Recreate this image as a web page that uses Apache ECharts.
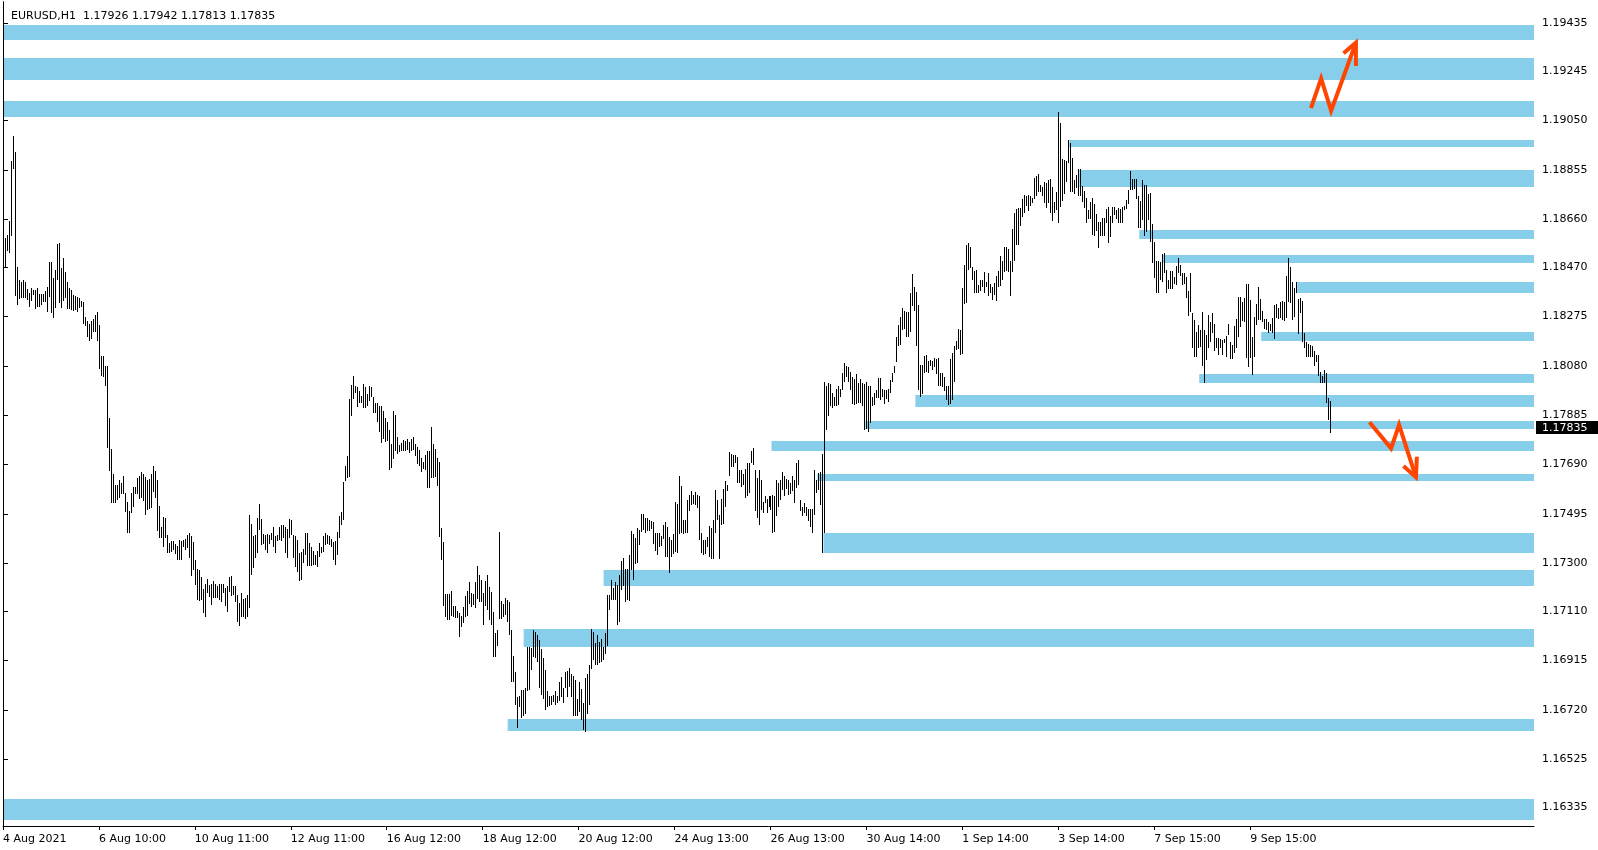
<!DOCTYPE html>
<html><head><meta charset="utf-8">
<script src="https://cdn.jsdelivr.net/npm/echarts@6/dist/echarts.min.js"></script>
<style>html,body{margin:0;padding:0;background:#fff;}#c{width:1598px;height:850px;}</style>
</head><body><div id="c"></div>
<script>
// ---- data (prices in points, 1 point = 0.00001) ----
const symbol = 'EURUSD,H1';
const lastOHLC = [1.17926, 1.17942, 1.17813, 1.17835];
const lastPrice = 117835;
const xLabels = ['4 Aug 2021','6 Aug 10:00','10 Aug 11:00','12 Aug 11:00','16 Aug 12:00','18 Aug 12:00','20 Aug 12:00','24 Aug 13:00','26 Aug 13:00','30 Aug 14:00','1 Sep 14:00','3 Sep 14:00','7 Sep 15:00','9 Sep 15:00'];
const barsPerLabel = 48;
const yTicks = [119435,119245,119050,118855,118660,118470,118275,118080,117885,117690,117495,117300,117110,116915,116720,116525,116335];
const highs = [
118770,118585,118598,118654,118892,118990,118927,118473,118420,118412,
118420,118410,118386,118370,118389,118381,118382,118389,118366,118366,
118365,118377,118394,118491,118491,118427,118460,118563,118567,118469,
118507,118452,118411,118387,118380,118362,118358,118354,118350,118337,
118331,118275,118258,118246,118258,118265,118282,118294,118242,118120,
118120,118078,118080,117876,117751,117653,117610,117610,117630,117616,
117645,117579,117541,117508,117579,117603,117603,117635,117643,117659,
117653,117640,117630,117632,117652,117685,117666,117630,117527,117445,
117482,117479,117413,117379,117388,117386,117375,117370,117390,117389,
117390,117396,117411,117419,117406,117382,117313,117279,117274,117247,
117197,117218,117237,117213,117217,117230,117216,117210,117217,117218,
117216,117202,117208,117245,117250,117208,117208,117173,117142,117181,
117160,117164,117173,117491,117456,117406,117411,117479,117535,117474,
117416,117413,117416,117413,117421,117442,117408,117413,117445,117453,
117452,117445,117435,117475,117469,117413,117406,117392,117340,117345,
117355,117419,117419,117379,117363,117349,117333,117349,117379,117366,
117406,117419,117412,117408,117395,117382,117387,117424,117487,
117504,117622,117685,117724,117949,118005,118041,118001,117995,117981,
117962,118009,117996,117970,118001,117996,117959,117935,117933,117922,
117922,117900,117875,117860,117825,117773,117900,117888,117798,117768,
117777,117788,117785,117792,117781,117790,117798,117772,117759,117748,
117715,117701,117728,117742,117742,117839,117772,117751,117715,117702,
117438,117382,117177,117179,117179,117192,117131,117129,117113,117102,
117092,117126,117171,117192,117224,117181,117179,117226,117290,117254,
117234,117181,117229,117254,117205,117185,117109,117023,117034,117424,
117152,117139,117164,117155,117145,117034,116934,116868,116773,116776,
116799,116799,116806,116968,116968,116963,117034,117030,117017,116997,
116960,116927,116878,116795,116776,116776,116779,116793,116776,116832,
116852,116806,116868,116872,116885,116862,116856,116839,116765,116832,
116802,116746,116845,116862,116898,117039,117030,116986,117015,116990,
117000,116968,117023,117175,117175,117234,117201,117224,117214,117254,
117307,117320,117276,117276,117333,117427,117416,117400,117440,117432,
117495,117495,117478,117479,117471,117467,117463,117420,117421,117420,
117408,117453,117463,117445,117405,
117390,117416,117544,117535,117645,117606,117469,117471,117551,117570,
117587,117570,117582,117570,117566,117419,117390,117392,117403,117448,
117439,117471,117590,117551,117491,117553,117593,117627,117609,117740,
117732,117728,117728,117719,117669,117669,117653,117672,117696,117696,
117742,117754,117667,117636,117669,117630,117544,117566,117553,117566,
117566,117570,117566,117630,117616,117630,117659,117643,117632,117630,
117616,117643,117630,117696,117709,117551,117522,117537,117524,117514,
117514,117516,117669,117630,117656,117659,117732,118017,118001,118012,
118009,117975,117959,117988,118001,117988,118051,118091,118078,118075,
118057,118038,118028,118049,118014,118028,118012,118009,118017,117999,
118001,117959,117975,117983,118032,118033,117988,117983,117983,117988,
118025,118054,118080,118194,118241,118275,118308,118299,118294,118294,
118368,118444,118394,118373,118322,118083,118084,118120,118124,118098,
118104,118101,118111,118109,118111,118054,118054,118036,117999,117999,
118107,118130,118159,118177,118225,118223,118387,118480,118559,118565,
118552,118471,118457,118460,118401,118420,118420,118453,118413,118449,
118405,118394,118407,118436,118457,
118513,118495,118549,118552,118541,118494,118621,118684,118702,118704,
118706,118739,118754,118752,118756,118750,118744,118822,118831,118839,
118796,118787,118808,118802,118816,118818,118787,118730,118769,119085,
119042,118897,118895,118892,118974,118961,118903,118816,118835,118859,
118858,118792,118771,118744,118697,118730,118743,118721,118681,118651,
118651,118664,118664,118700,118708,118671,118710,118708,118697,118704,
118702,118710,118713,118737,118776,118849,118818,118818,118818,118752,
118734,118816,118796,118796,118760,118763,118642,118572,118493,118494,
118492,118523,118526,118460,118420,118455,118455,118431,118476,118506,
118480,118449,118447,118431,118378,118447,118291,118262,118216,118242,
118223,118294,118223,118204,118282,118252,118291,118246,118190,118190,
118186,118183,118186,118199,118246,118176,118163,118236,118265,118354,
118352,118331,118348,118405,118405,118341,118196,118273,118325,118391,
118344,118299,118265,118265,118252,118246,118269,118321,118325,118308,
118331,118335,118331,118436,118506,118473,118410,118387,118412,118344,
118348,118335,118209,118173,118167,118163,118159,118141,118124,118124,
118058,118041,118064,118051,117952,117942
];
const lows = [
118414,118473,118536,118528,118592,118858,118358,118319,118344,118347,
118348,118350,118340,118315,118335,118362,118307,118312,118315,118321,
118331,118333,118295,118354,118289,118271,118311,118418,118328,118311,
118335,118348,118304,118304,118302,118299,118302,118293,118308,118315,
118244,118236,118194,118177,118187,118215,118215,118180,118067,118042,
118035,117999,117757,117666,117540,117537,117537,117550,117557,117574,
117574,117503,117419,117419,117500,117524,117574,117574,117553,117556,
117545,117492,117511,117514,117519,117582,117557,117429,117399,117399,
117366,117398,117340,117340,117346,117353,117336,117313,117313,117313,
117363,117353,117359,117320,117250,117274,117214,117155,117151,117155,
117102,117089,117181,117166,117135,117162,117162,117163,117155,117148,
117181,117129,117109,117188,117172,117175,117148,117066,117050,117087,
117089,117080,117089,117122,117253,117283,117322,117340,117432,117371,
117376,117353,117342,117376,117390,117366,117340,117387,117390,117386,
117400,117342,117320,117399,117410,117320,117284,117265,117228,117234,
117299,117333,117290,117290,117290,117291,117291,117284,117326,117340,
117346,117373,117376,117373,117366,117313,117294,117333,117399,
117453,117469,117627,117635,117640,117884,117949,117972,117916,117933,
117933,117912,117912,117920,117943,117956,117893,117893,117860,117817,
117777,117793,117780,117784,117669,117676,117714,117743,117732,117739,
117742,117745,117742,117748,117735,117742,117748,117722,117691,117685,
117662,117674,117669,117597,117598,117635,117635,117640,117606,117405,
117311,117131,117089,117076,117076,117092,117086,117082,117082,117010,
117047,117063,117089,117092,117137,117126,117135,117121,117158,117148,
117148,117054,117131,117116,117076,117056,116931,116931,116971,117079,
117079,117089,117096,117069,117017,116832,116832,116740,116649,116733,
116687,116694,116704,116793,116799,116878,116931,116927,116911,116806,
116779,116762,116718,116731,116736,116740,116753,116740,116746,116757,
116773,116749,116806,116773,116810,116770,116694,116696,116696,116712,
116681,116641,116631,116704,116740,116881,116918,116898,116898,116905,
116911,116918,116942,116971,117116,117155,117155,117155,117056,117069,
117195,117208,117145,117155,117152,117274,117232,117297,117300,117373,
117425,117432,117419,117429,117429,117434,117376,117350,117334,117366,
117369,117395,117324,117326,117263,
117324,117337,117346,117342,117416,117419,117416,117419,117419,117508,
117531,117535,117531,117518,117392,117342,117333,117337,117366,117324,
117316,117316,117419,117471,117316,117452,117456,117524,117587,117643,
117682,117682,117696,117619,117619,117603,117610,117557,117564,117577,
117696,117689,117508,117478,117452,117511,117498,117537,117500,117524,
117511,117419,117425,117485,117524,117548,117590,117564,117593,117570,
117573,117587,117537,117597,117610,117507,117487,117498,117485,117465,
117445,117419,117491,117577,117590,117531,117340,117419,117827,117883,
117920,117912,117922,117920,117925,117959,117983,118018,118038,118018,
117983,117930,117926,117930,117935,117933,117920,117827,117830,117817,
117856,117922,117925,117953,117953,117946,117959,117930,117949,117939,
117972,118017,118054,118094,118157,118163,118223,118225,118194,118194,
118216,118318,118299,118157,117985,117959,117970,118051,118058,118054,
118080,118062,118075,118049,118001,118001,117996,117979,117946,117926,
117930,117946,118018,118144,118146,118123,118128,118326,118328,118460,
118467,118420,118368,118370,118368,118378,118394,118368,118394,118355,
118370,118341,118361,118335,118391,
118397,118420,118451,118455,118451,118357,118453,118493,118560,118560,
118634,118668,118684,118713,118694,118713,118723,118739,118752,118769,
118766,118750,118726,118706,118725,118684,118655,118684,118697,118647,
118710,118734,118760,118809,118882,118766,118766,118760,118783,118752,
118750,118730,118704,118644,118660,118660,118598,118592,118615,118548,
118592,118594,118592,118644,118568,118589,118644,118677,118660,118647,
118647,118647,118697,118700,118721,118776,118776,118779,118739,118625,
118625,118658,118592,118611,118658,118572,118486,118428,118368,118370,
118420,118410,118447,118370,118383,118383,118386,118405,118401,118449,
118434,118401,118405,118348,118278,118294,118150,118117,118115,118150,
118154,118078,118014,118104,118150,118173,118209,118141,118150,118124,
118150,118124,118170,118117,118203,118107,118107,118130,118150,118196,
118233,118256,118252,118111,118075,118111,118046,118117,118242,118262,
118262,118252,118225,118223,118209,118217,118212,118186,118269,118265,
118269,118262,118256,118269,118331,118328,118262,118275,118368,118207,
118289,118176,118150,118117,118117,118115,118117,118080,118097,118041,
118014,118014,118014,117933,117867,117813
];
// zones: [first bar index, top price, bottom price]
const zones = [
[0,119428,119370],[0,119298,119212],[0,119128,119066],
[533,118974,118947],[538,118855,118789],[568,118618,118583],[580,118518,118486],
[647,118412,118370],[629,118214,118180],[598,118048,118014],[456,117964,117919],
[431,117862,117829],[384,117783,117745],[407,117653,117625],[410,117420,117342],
[300,117273,117211],[260,117040,116970],[252,116685,116635],[0,116369,116284]
];
// hand-drawn arrows: [bar index, price]
const arrowUp = [[654.4,119099],[659.5,119217],[664.5,119089],[676.9,119358]];
const arrowUpHead = [[670.7,119316],[676.9,119358],[676.9,119266]];
const arrowDown = [[683.7,117857],[694.5,117754],[698.5,117847],[706.9,117640]];
const arrowDownHead = [[700.7,117684],[706.9,117640],[707.4,117721]];
const axisMaxIndex = 766;
const yMin = 116261, yMax = 119519;

// ---- chart ----
const FONT = 'DejaVu Sans';
const bars = highs.map((h, i) => [i, h, lows[i]]);
const xTickVals = xLabels.map((_, k) => k * barsPerLabel);

const chart = echarts.init(document.getElementById('c'), null, {renderer: 'canvas'});
chart.setOption({
  animation: false,
  backgroundColor: '#ffffff',
  title: {
    text: symbol + '  ' + lastOHLC.map(v => v.toFixed(5)).join(' '),
    left: 6, top: 6,
    textStyle: {fontFamily: FONT, fontSize: 11, fontWeight: 'normal', color: '#000'}
  },
  grid: {left: 2, right: 64, top: 2, bottom: 24, containLabel: false},
  xAxis: {
    type: 'value', min: 0, max: axisMaxIndex,
    axisLine: {show: true, onZero: false, lineStyle: {color: '#000', width: 1}},
    axisTick: {show: true, customValues: xTickVals, length: 4, lineStyle: {color: '#000'}},
    axisLabel: {
      show: true, customValues: xTickVals, margin: 8, align: 'left',
      fontFamily: FONT, fontSize: 11, color: '#000',
      formatter: v => xLabels[Math.round(v / barsPerLabel)] || ''
    },
    splitLine: {show: false}
  },
  yAxis: [{
    type: 'value', position: 'right', min: yMin, max: yMax, scale: true,
    axisLine: {show: true, lineStyle: {color: '#000', width: 1}},
    axisTick: {show: true, customValues: yTicks, length: 5, lineStyle: {color: '#000'}},
    axisLabel: {
      show: true, customValues: yTicks, margin: 8,
      fontFamily: FONT, fontSize: 11, color: '#000',
      formatter: v => (v / 1e5).toFixed(5)
    },
    splitLine: {show: false}
  }, {
    type: 'value', position: 'left', min: yMin, max: yMax, scale: true,
    axisLine: {show: true, lineStyle: {color: '#000', width: 1}},
    axisTick: {show: false}, axisLabel: {show: false}, splitLine: {show: false}
  }],
  series: [
    {
      type: 'custom', name: 'zones', data: zones, encode: {x: 0, y: [1, 2]},
      renderItem: (params, api) => {
        const a = api.coord([api.value(0), api.value(1)]);
        const b = api.coord([axisMaxIndex, api.value(2)]);
        return {type: 'rect', shape: {x: a[0] + 1, y: Math.round(a[1]), width: b[0] - a[0] - 1, height: Math.round(b[1]) - Math.round(a[1])},
          style: {fill: '#87CEEB'}};
      },
      z: 1
    },
    {
      type: 'custom', name: 'bars', data: bars, encode: {x: 0, y: [1, 2]},
      renderItem: (params, api) => {
        const i = api.value(0);
        const a = api.coord([i, api.value(1)]);
        const b = api.coord([i, api.value(2)]);
        const y1 = Math.round(a[1]), y2 = Math.round(b[1]);
        return {type: 'rect', shape: {x: Math.round(a[0]), y: y1, width: 1, height: Math.max(1, y2 - y1)},
          style: {fill: '#000'}};
      },
      z: 3
    },
    {
      type: 'custom', name: 'arrows', data: [[0, lastPrice]], encode: {x: 0, y: 1},
      renderItem: (params, api) => {
        const pts = arr => arr.map(p => api.coord(p));
        const st = {stroke: '#FF4500', lineWidth: 4, fill: null, lineJoin: 'miter', lineCap: 'butt'};
        return {type: 'group', children: [
          {type: 'polyline', shape: {points: pts(arrowUp)}, style: st},
          {type: 'polyline', shape: {points: pts(arrowUpHead)}, style: st},
          {type: 'polyline', shape: {points: pts(arrowDown)}, style: st},
          {type: 'polyline', shape: {points: pts(arrowDownHead)}, style: st}
        ]};
      },
      z: 4
    },
    {
      type: 'custom', name: 'price', data: [[axisMaxIndex, lastPrice]], encode: {x: 0, y: 1}, clip: false,
      renderItem: (params, api) => {
        const p = api.coord([api.value(0), api.value(1)]);
        return {type: 'group', children: [
          {type: 'rect', shape: {x: Math.round(p[0]) + 2, y: Math.round(p[1]) - 7, width: 62, height: 13}, style: {fill: '#000'}},
          {type: 'text', x: Math.round(p[0]) + 8, y: Math.round(p[1]), style: {text: (api.value(1) / 1e5).toFixed(5), fill: '#fff', font: '11px "DejaVu Sans"', verticalAlign: 'middle', align: 'left'}}
        ]};
      },
      z: 10
    }
  ]
});
</script>
</body></html>
